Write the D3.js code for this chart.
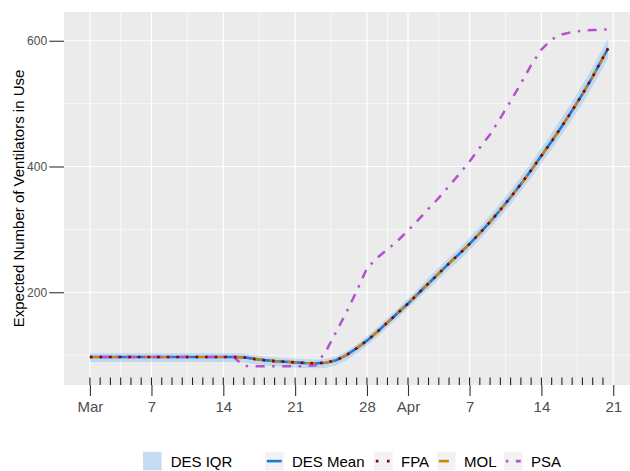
<!DOCTYPE html>
<html>
<head>
<meta charset="utf-8">
<script src="https://cdn.jsdelivr.net/npm/d3@7"></script>
<style>
  html, body { margin: 0; padding: 0; background: #fff; }
  svg { display: block; font-family: "Liberation Sans", Arial, Helvetica, sans-serif; }
</style>
</head>
<body>
<svg id="chart" width="630" height="471"></svg>
<script>
// ---------------- data (days since 1 Mar 2020) ----------------
const days = [0,1,2,3,4,5,6,7,8,9,10,11,12,13,14,15,16,17,18,19,20,21,22,23,24,25,26,27,28,29,30,31,32,33,34,35,36,37,38,39,40,41,42,43,44,45,46,47,48,49,50.5];

const desMean = [97,97,97,97,97,97,97,97,97,97,97,97,97,97,97,96.5,94,92,90.5,89.5,88.5,87.5,87,88,92,100,111,123,137,152,167,182,198,214,230,246,261,277,294,312,331,351,372,394,417,440,464,489,515,543,588];
const desLower = [89,89,89,89,89,89,89,89,89,89,89,89,89,89,89,88.5,86,84,82.5,81.5,80.5,79.5,79,80,84,92,103,115,129,144,159,174,190,205,221,237,251,267,284,302,320,340,361,382,405,427,451,475,500,528,572];
const desUpper = [103,103,103,103,103,103,103,103,103,103,103,103,103,103,103,102.5,100,98,96.5,95.5,94.5,93.5,93,94,98,106,117,130,144,159,174,190,206,223,239,255,270,287,304,322,342,362,384,406,429,453,478,503,530,558,604];
const fpa = [97,97,97,97,97,97,97,97,97,97,97,97,97,97,97,96.5,94,92,90.5,89.5,88.5,87.5,87,88,92,100,111,123,137,152,167,182,198,214,230,246,261,277,294,312,331,351,372,394,417,440,464,489,515,543,588];
const mol = [97,97,97,97,97,97,97,97,97,97,97,97,97,97,97,96.5,94,92,90.5,89.5,88.5,87.5,87,88,92,100,111,123,137,152,167,182,198,214,230,246,261,277,294,312,331,351,372,394,417,440,464,489,515,543,588];
const psa = [97,97,97,97,97,97,97,97,97,97,97,97,97,97,97,83,82.5,82.5,82.5,82.5,82.5,82.5,84,106,137,168,202,238,255,268,282,298,315,333,350,369,388,408,430,451,477,504,532,561,586,602,610,614,616,617,618];

const xTickDates = ["2020-03-01","2020-03-07","2020-03-14","2020-03-21","2020-03-28","2020-04-01","2020-04-07","2020-04-14","2020-04-21"];
const xTickLabels = ["Mar","7","14","21","28","Apr","7","14","21"];
const yTicks = [200, 400, 600];
const yMinor = [100, 300, 500];
const legendLabels = ["DES IQR","DES Mean","FPA","MOL","PSA"];
const yTitle = "Expected Number of Ventilators in Use";

// ---------------- setup ----------------
const DAY = 864e5;
const base = Date.UTC(2020, 2, 1);
const toDate = d => new Date(base + d * DAY);

const svg = d3.select("#chart");
const panel = { left: 64, right: 634, top: 12, bottom: 385 };

const x = d3.scaleUtc()
  .domain([toDate(-2.525), toDate(53.025)])
  .range([panel.left, panel.right]);
const y = d3.scaleLinear()
  .domain([52.5, 645.7])
  .range([panel.bottom, panel.top]);

const colors = {
  band: "#1E90FF", mean: "#1C78D2", fpa: "#8B0000", mol: "#CD8500", psa: "#B452CD"
};

svg.append("rect").attr("width", 630).attr("height", 471).attr("fill", "#fff");

svg.append("defs").append("clipPath").attr("id", "clip")
  .append("rect")
  .attr("x", panel.left).attr("y", panel.top)
  .attr("width", panel.right - panel.left).attr("height", panel.bottom - panel.top);

const g = svg.append("g").attr("clip-path", "url(#clip)");
g.append("rect")
  .attr("x", panel.left).attr("y", panel.top)
  .attr("width", panel.right - panel.left).attr("height", panel.bottom - panel.top)
  .attr("fill", "#EBEBEB");

// gridlines
const majorDates = xTickDates.map(s => new Date(s + "T00:00:00Z"));
const majorX = majorDates.map(d => x(d));
const minorX = d3.pairs(majorX).map(([a, b]) => (a + b) / 2);

g.selectAll(".ymin").data(yMinor).join("line")
  .attr("x1", panel.left).attr("x2", panel.right)
  .attr("y1", d => y(d)).attr("y2", d => y(d))
  .attr("stroke", "#fff").attr("stroke-width", 0.6);
g.selectAll(".xmin").data(minorX).join("line")
  .attr("x1", d => d).attr("x2", d => d)
  .attr("y1", panel.top).attr("y2", panel.bottom)
  .attr("stroke", "#fff").attr("stroke-width", 0.6);
g.selectAll(".ymaj").data(yTicks).join("line")
  .attr("x1", panel.left).attr("x2", panel.right)
  .attr("y1", d => y(d)).attr("y2", d => y(d))
  .attr("stroke", "#fff").attr("stroke-width", 1.2);
g.selectAll(".xmaj").data(majorX).join("line")
  .attr("x1", d => d).attr("x2", d => d)
  .attr("y1", panel.top).attr("y2", panel.bottom)
  .attr("stroke", "#fff").attr("stroke-width", 1.2);

// rug of daily ticks
const rugDates = d3.utcDay.range(toDate(0), toDate(51));
g.selectAll(".rug").data(rugDates).join("line")
  .attr("x1", d => x(d)).attr("x2", d => x(d))
  .attr("y1", panel.bottom - 7.5).attr("y2", panel.bottom)
  .attr("stroke", "#222").attr("stroke-width", 1.1);

// ribbon
const rows = days.map((d, i) => ({
  date: toDate(d), mean: desMean[i], lo: desLower[i], hi: desUpper[i],
  fpa: fpa[i], mol: mol[i], psa: psa[i]
}));

g.append("path").datum(rows)
  .attr("d", d3.area().x(d => x(d.date)).y0(d => y(d.lo)).y1(d => y(d.hi)))
  .attr("fill", colors.band).attr("fill-opacity", 0.21);

const lineFor = key => d3.line().x(d => x(d.date)).y(d => y(d[key]));

g.append("path").datum(rows).attr("d", lineFor("mean"))
  .attr("fill", "none").attr("stroke", colors.mean).attr("stroke-width", 2.6);
g.append("path").datum(rows).attr("d", lineFor("mol"))
  .attr("fill", "none").attr("stroke", colors.mol).attr("stroke-width", 2.2)
  .attr("stroke-dasharray", "10,8");
g.append("path").datum(rows).attr("d", lineFor("psa"))
  .attr("fill", "none").attr("stroke", colors.psa).attr("stroke-width", 2.5)
  .attr("stroke-dasharray", "2.5,7.5,9,7.5");
g.append("path").datum(rows).attr("d", lineFor("fpa"))
  .attr("fill", "none").attr("stroke", colors.fpa).attr("stroke-width", 2.6)
  .attr("stroke-dasharray", "2.6,7");

// axes
const xAxis = d3.axisBottom(x)
  .tickValues(majorDates)
  .tickFormat((d, i) => xTickLabels[i])
  .tickSize(11).tickPadding(5.8);
const xg = svg.append("g").attr("transform", `translate(0,${panel.bottom})`).call(xAxis);
xg.select(".domain").remove();
xg.selectAll(".tick line").attr("stroke", "#333").attr("stroke-width", 1.1);
xg.selectAll(".tick text").attr("fill", "#4D4D4D").style("font-size", "15px")
  .style("font-family", '"Liberation Sans", Arial, sans-serif');

const yAxis = d3.axisLeft(y).tickValues(yTicks).tickSize(14.7).tickPadding(2.2);
const yg = svg.append("g").attr("transform", `translate(${panel.left},0)`).call(yAxis);
yg.select(".domain").remove();
yg.selectAll(".tick line").attr("stroke", "#333").attr("stroke-width", 1.1);
yg.selectAll(".tick text").attr("fill", "#4D4D4D").style("font-size", "12px")
  .style("font-family", '"Liberation Sans", Arial, sans-serif');

svg.append("text")
  .attr("transform", `translate(23.5,${(panel.top + panel.bottom) / 2}) rotate(-90)`)
  .attr("text-anchor", "middle")
  .style("font-size", "15px")
  .attr("fill", "#000")
  .text(yTitle);

// legend
const keyX = [143, 265, 374, 437, 504];
const textX = [170.7, 292, 401, 464, 531];
const keyY = 451.8, keyS = 18.6;
const lg = svg.append("g");
legendLabels.forEach((lab, i) => {
  lg.append("rect").attr("x", keyX[i]).attr("y", keyY).attr("width", keyS).attr("height", keyS)
    .attr("fill", "#F2F2F2");
  const cy = keyY + keyS / 2;
  const x1 = keyX[i] + keyS * 0.1, x2 = keyX[i] + keyS * 0.9;
  if (i === 0) {
    lg.append("rect").attr("x", keyX[i]).attr("y", keyY).attr("width", keyS).attr("height", keyS)
      .attr("fill", colors.band).attr("fill-opacity", 0.21);
  } else if (i === 1) {
    lg.append("line").attr("x1", x1).attr("x2", x2).attr("y1", cy).attr("y2", cy)
      .attr("stroke", colors.mean).attr("stroke-width", 2.6);
  } else if (i === 2) {
    lg.append("line").attr("x1", x1).attr("x2", x2).attr("y1", cy).attr("y2", cy)
      .attr("stroke", colors.fpa).attr("stroke-width", 2.6).attr("stroke-dasharray", "2.6,8.5");
  } else if (i === 3) {
    lg.append("line").attr("x1", x1).attr("x2", x2).attr("y1", cy).attr("y2", cy)
      .attr("stroke", colors.mol).attr("stroke-width", 2.6).attr("stroke-dasharray", "10,8");
  } else {
    lg.append("line").attr("x1", x1).attr("x2", x2).attr("y1", cy).attr("y2", cy)
      .attr("stroke", colors.psa).attr("stroke-width", 2.6).attr("stroke-dasharray", "2.5,7.5,9,7.5");
  }
  lg.append("text").attr("x", textX[i]).attr("y", cy + 5.4)
    .style("font-size", "15px").attr("fill", "#000").text(lab);
});
</script>
</body>
</html>
